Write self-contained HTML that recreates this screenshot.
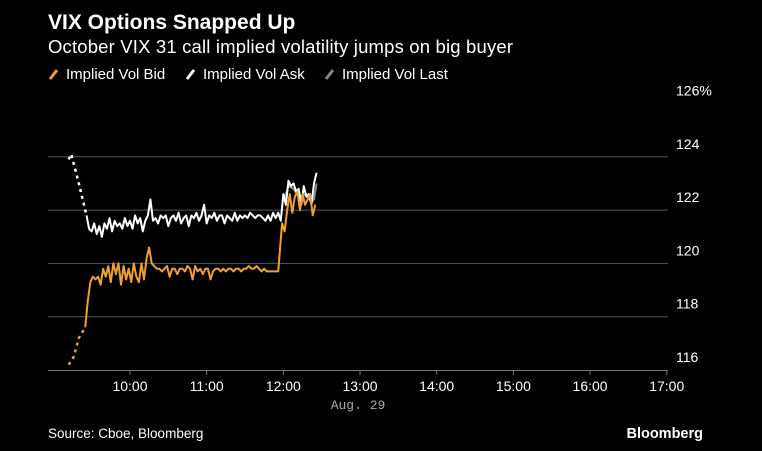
<!DOCTYPE html>
<html><head><meta charset="utf-8"><style>
body{margin:0;background:#000;width:762px;height:451px;overflow:hidden;font-family:"Liberation Sans",sans-serif;color:#fff}
svg{position:absolute;left:0;top:0}
</style></head><body>
<svg width="762" height="451">
<text x="48" y="29" font-size="21" font-weight="bold" fill="#fff">VIX Options Snapped Up</text>
<text x="48" y="53" font-size="18.5" fill="#fff" textLength="465">October VIX 31 call implied volatility jumps on big buyer</text>
<g font-size="15" fill="#fff">
<g><line x1="50" y1="79" x2="57" y2="70" stroke="#f0a030" stroke-width="3"/><text x="66" y="79">Implied Vol Bid</text></g>
<g><line x1="187" y1="79" x2="194" y2="70" stroke="#fff" stroke-width="3"/><text x="203" y="79">Implied Vol Ask</text></g>
<g><line x1="326" y1="79" x2="333" y2="70" stroke="#888" stroke-width="3"/><text x="342" y="79">Implied Vol Last</text></g>
</g>
<g id="grid"></g><g id="plot"></g>
<text x="358" y="409" font-size="13" fill="#aaa" text-anchor="middle" font-family="Liberation Mono, monospace">Aug. 29</text>
<text x="48" y="438" font-size="13.5" fill="#fff">Source: Cboe, Bloomberg</text>
<text x="703" y="438" font-size="14.5" font-weight="bold" fill="#fff" text-anchor="end">Bloomberg</text>
</svg>
<script>
const yTicks=[116,118,120,122,124,126];
const xTickLabels=["10:00","11:00","12:00","13:00","14:00","15:00","16:00","17:00"];
const xTickMins=[60,120,180,240,300,360,420,480];
const askT=[12,14,20,26,28,30,32,34,36,38,40,42,44,46,48,50,52,54,56,58,60,62,64,66,68,70,72,74,76,78,80,82,84,86,88,90,92,94,96,98,100,102,104,106,108,110,112,114,116,118,120,122,124,126,128,130,132,134,136,138,140,142,144,146,148,150,152,154,156,158,160,162,164,166,168,170,172,174,176,178,180,182,184,186,188,190,192,194,196,198,200,202,204,206];
const askV=[123.9,124.1,123.0,121.8,121.3,121.2,121.5,121.1,121.4,121.0,121.5,121.3,121.7,121.2,121.6,121.4,121.5,121.3,121.7,121.4,121.6,121.3,121.8,121.5,121.7,121.2,121.6,121.8,122.4,121.6,121.7,121.5,121.8,121.7,121.8,121.4,121.7,121.8,121.6,121.9,121.5,121.7,121.8,121.4,121.8,121.7,121.9,121.6,121.8,122.2,121.5,121.8,121.7,121.9,121.6,121.8,121.8,121.5,121.8,121.7,121.6,121.9,121.6,121.8,121.7,121.8,121.7,121.9,121.8,121.7,121.8,121.8,121.7,121.6,121.8,121.6,121.9,121.7,121.9,121.6,122.6,122.2,123.1,122.9,123.0,122.7,122.8,122.2,122.9,122.5,122.6,122.2,123.0,123.4];
const bidT=[12,16,20,25,27,29,31,33,35,37,39,41,43,45,47,49,51,53,55,57,59,61,63,65,67,69,71,73,75,77,79,81,83,85,87,89,91,93,95,97,99,101,103,105,107,109,111,113,115,117,119,121,123,125,127,129,131,133,135,137,139,141,143,145,147,149,151,153,155,157,159,161,163,165,167,169,171,173,176,179,181,183,185,187,189,191,193,195,197,199,201,203,205];
const bidV=[116.2,116.5,117.2,117.6,118.6,119.3,119.5,119.4,119.5,119.2,119.8,119.5,119.9,119.3,120.0,119.6,120.0,119.2,119.9,119.4,119.8,119.3,120.0,119.5,119.3,120.0,119.4,120.2,120.6,120.0,119.9,119.8,119.8,119.7,119.8,119.9,119.5,119.8,119.8,119.6,119.8,119.8,119.7,119.9,119.8,119.4,119.9,119.7,119.8,119.6,119.8,119.8,119.4,119.7,119.8,119.8,119.7,119.8,119.7,119.8,119.8,119.7,119.8,119.8,119.7,119.8,119.8,119.9,119.8,119.8,119.9,119.8,119.7,119.8,119.7,119.7,119.7,119.7,119.7,121.5,121.2,122.0,122.6,121.9,122.5,122.7,122.0,122.6,122.2,122.4,122.6,121.8,122.2];
const lastT=[180,184,188,192,198,202,204,206];
const lastV=[122.3,122.9,122.8,122.5,122.6,122.3,122.4,123.0];
const X=m=>53.3+m*1.278, Y=v=>370-(v-116)*26.65;
const NS="http://www.w3.org/2000/svg";
const grid=document.getElementById('grid'),plot=document.getElementById('plot');
function mk(tag,attrs,parent){const e=document.createElementNS(NS,tag);for(const k in attrs)e.setAttribute(k,attrs[k]);parent.appendChild(e);return e;}
yTicks.forEach((v,i)=>{
 if(v>116&&v<126){const l=mk('line',{x1:48,x2:668,y1:Y(v),y2:Y(v),stroke:'#555','stroke-width':1},grid);
 
 }
 const t=mk('text',{x:676,y:Y(v)-8,'font-size':14,fill:'#fff'},grid);t.textContent=v+(v===126?'%':'');
 
 
});
const ax=mk('line',{x1:48,x2:668,y1:370.5,y2:370.5,stroke:'#777'},grid);


xTickMins.forEach((m,i)=>{
 const tk=mk('line',{x1:X(m),x2:X(m),y1:370,y2:375,stroke:'#777'},grid);
 
 
 const t=mk('text',{x:X(m),y:391,'font-size':14,fill:'#fff','text-anchor':'middle'},grid);t.textContent=xTickLabels[i];
 
 
});
function series(T,V,color,dotN,name){
 if(dotN>0){const p=mk('polyline',{points:T.slice(0,dotN).map((t,i)=>X(t)+','+Y(V[i])).join(' '),fill:'none',stroke:color,'stroke-width':2.5,'stroke-dasharray':'3 4'},plot);
 
 }
 const p=mk('polyline',{points:T.slice(Math.max(dotN-1,0)).map((t,i)=>X(t)+','+Y(V[i+Math.max(dotN-1,0)])).join(' '),fill:'none',stroke:color,'stroke-width':2,'stroke-linejoin':'round'},plot);
 
 
}
series(lastT,lastV,'#888',0,'last-line');
series(askT,askV,'#fff',4,'ask-line');
series(bidT,bidV,'#f0a030',4,'bid-line');
</script>
</body></html>
